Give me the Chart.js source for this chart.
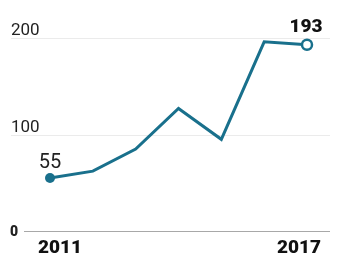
<!DOCTYPE html>
<html>
<head>
<meta charset="utf-8">
<script src="https://cdn.jsdelivr.net/npm/chart.js@4"></script>
<style>
  html, body { margin: 0; padding: 0; background: #fff; }
  #wrap { width: 339px; height: 264px; position: relative; }
</style>
</head>
<body>
<div id="wrap"><canvas id="chart"></canvas></div>
<script>
const years = ['2011', '2012', '2013', '2014', '2015', '2016', '2017'];
const values = [55, 62, 85, 127, 95, 196, 193];
const yTicks = [0, 100, 200];
const shownYears = ['2011', '2017'];

const lineColor = '#19708c';

// gridlines, axis labels and end labels drawn by hand
const decor = {
  id: 'decor',
  beforeDatasetsDraw(chart) {
    const ctx = chart.ctx;
    const y = chart.scales.y;
    ctx.save();
    yTicks.forEach(v => {
      const py = Math.round(y.getPixelForValue(v)) + 0.5;
      ctx.beginPath();
      if (v === 0) {
        ctx.strokeStyle = '#a8a8a8';
        ctx.moveTo(24, py);
      } else {
        ctx.strokeStyle = '#ebebeb';
        ctx.moveTo(11, py);
      }
      ctx.lineTo(330, py);
      ctx.lineWidth = 1;
      ctx.stroke();

      ctx.fillStyle = '#222';
      ctx.textAlign = 'left';
      if (v === 0) {
        ctx.font = '900 14px Roboto';
        ctx.textBaseline = 'middle';
        ctx.fillText('0', 10, py + 1);
      } else {
        ctx.font = '17px Roboto';
        ctx.textBaseline = 'alphabetic';
        ctx.fillText(String(v), 11, py - 4);
      }
    });
    ctx.restore();
  },
  afterDatasetsDraw(chart) {
    const ctx = chart.ctx;
    const x = chart.scales.x;
    const y = chart.scales.y;
    ctx.save();
    ctx.fillStyle = '#111';
    ctx.font = '900 19px Roboto';
    ctx.textBaseline = 'alphabetic';
    const baseY = y.getPixelForValue(0) + 22;
    shownYears.forEach(yr => {
      const px = x.getPixelForValue(years.indexOf(yr));
      if (yr === years[0]) {
        ctx.textAlign = 'left';
        ctx.fillText(yr, px - 12, baseY);
      } else {
        ctx.textAlign = 'right';
        ctx.fillText(yr, px + 14, baseY);
      }
    });

    const pts = chart.getDatasetMeta(0).data;
    const first = pts[0], last = pts[pts.length - 1];
    ctx.textAlign = 'center';
    ctx.fillStyle = '#222';
    ctx.font = '20px Roboto';
    ctx.fillText(String(values[0]), first.x, first.y - 10);
    ctx.fillStyle = '#111';
    ctx.font = '900 19px Roboto';
    ctx.fillText(String(values[values.length - 1]), last.x - 1, last.y - 13);
    ctx.restore();
  }
};

const n = values.length;
new Chart(document.getElementById('chart'), {
  type: 'line',
  data: {
    labels: years,
    datasets: [{
      data: values,
      borderColor: lineColor,
      borderWidth: 3,
      tension: 0,
      borderJoinStyle: 'miter',
      pointRadius: values.map((v, i) => (i === 0 ? 5 : i === n - 1 ? 5 : 0)),
      pointBackgroundColor: values.map((v, i) => (i === n - 1 ? '#fff' : lineColor)),
      pointBorderColor: lineColor,
      pointBorderWidth: values.map((v, i) => (i === n - 1 ? 2.5 : 0)),
      clip: false
    }]
  },
  options: {
    responsive: true,
    maintainAspectRatio: false,
    animation: false,
    layout: { padding: { left: 50, right: 32, top: 38, bottom: 33 } },
    plugins: { legend: { display: false }, tooltip: { enabled: false } },
    scales: {
      x: { display: false, offset: false },
      y: { display: false, min: 0, max: 200 }
    }
  },
  plugins: [decor]
});
</script>
</body>
</html>
